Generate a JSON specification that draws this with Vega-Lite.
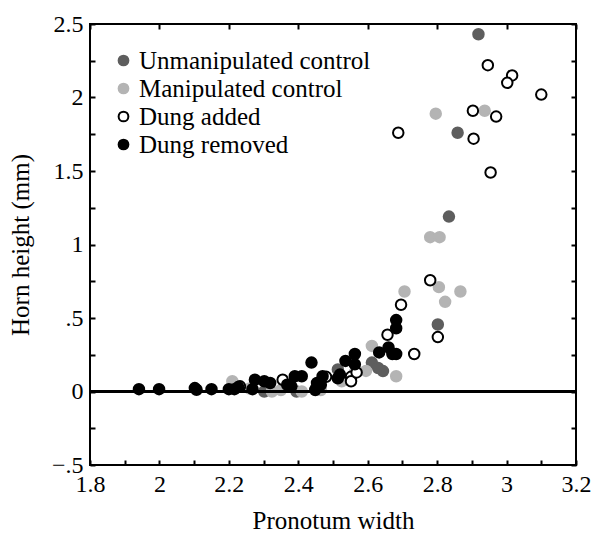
{
  "$schema": "https://vega.github.io/schema/vega-lite/v6.json",
  "width": 486,
  "height": 441,
  "autosize": {"type": "none"},
  "padding": {"left": 90, "top": 24, "right": 15, "bottom": 68},
  "background": "white",
  "config": {
    "view": {"stroke": "black", "strokeWidth": 2},
    "font": "Liberation Serif",
    "axis": {"grid": false, "domain": false, "tickColor": "black", "tickWidth": 2, "tickSize": -5,
             "labelFont": "Liberation Serif", "labelFontSize": 24, "labelColor": "black",
             "titleFont": "Liberation Serif", "titleFontSize": 25, "titleFontWeight": "normal", "titleColor": "black"},
    "legend": {"labelFont": "Liberation Serif", "labelFontSize": 25, "labelColor": "black"}
  },
  "data": {"values": [
    {"g": "Unmanipulated control", "x": 2.919, "y": 2.43},
    {"g": "Unmanipulated control", "x": 2.859, "y": 1.76},
    {"g": "Unmanipulated control", "x": 2.834, "y": 1.19},
    {"g": "Unmanipulated control", "x": 2.802, "y": 0.456},
    {"g": "Unmanipulated control", "x": 2.612, "y": 0.197},
    {"g": "Unmanipulated control", "x": 2.644, "y": 0.139},
    {"g": "Unmanipulated control", "x": 2.63, "y": 0.16},
    {"g": "Unmanipulated control", "x": 2.514, "y": 0.15},
    {"g": "Unmanipulated control", "x": 2.302, "y": 0.0},
    {"g": "Unmanipulated control", "x": 2.395, "y": 0.0},
    {"g": "Unmanipulated control", "x": 2.45, "y": 0.02},
    {"g": "Manipulated control", "x": 2.796, "y": 1.89},
    {"g": "Manipulated control", "x": 2.937, "y": 1.91},
    {"g": "Manipulated control", "x": 2.78, "y": 1.05},
    {"g": "Manipulated control", "x": 2.807, "y": 1.05},
    {"g": "Manipulated control", "x": 2.706, "y": 0.68},
    {"g": "Manipulated control", "x": 2.805, "y": 0.71},
    {"g": "Manipulated control", "x": 2.823, "y": 0.61},
    {"g": "Manipulated control", "x": 2.867, "y": 0.68},
    {"g": "Manipulated control", "x": 2.682, "y": 0.104},
    {"g": "Manipulated control", "x": 2.612, "y": 0.31},
    {"g": "Manipulated control", "x": 2.595, "y": 0.14},
    {"g": "Manipulated control", "x": 2.563, "y": 0.13},
    {"g": "Manipulated control", "x": 2.21, "y": 0.07},
    {"g": "Manipulated control", "x": 2.324, "y": 0.0},
    {"g": "Manipulated control", "x": 2.465, "y": 0.01},
    {"g": "Manipulated control", "x": 2.41, "y": 0.0},
    {"g": "Manipulated control", "x": 2.525, "y": 0.07},
    {"g": "Manipulated control", "x": 2.35, "y": 0.01},
    {"g": "Manipulated control", "x": 2.26, "y": 0.02},
    {"g": "Dung added", "x": 2.946, "y": 2.22},
    {"g": "Dung added", "x": 3.016, "y": 2.15},
    {"g": "Dung added", "x": 3.002, "y": 2.10},
    {"g": "Dung added", "x": 3.1, "y": 2.02},
    {"g": "Dung added", "x": 2.903, "y": 1.91},
    {"g": "Dung added", "x": 2.97, "y": 1.87},
    {"g": "Dung added", "x": 2.688, "y": 1.76},
    {"g": "Dung added", "x": 2.905, "y": 1.72},
    {"g": "Dung added", "x": 2.954, "y": 1.49},
    {"g": "Dung added", "x": 2.78, "y": 0.757},
    {"g": "Dung added", "x": 2.696, "y": 0.59},
    {"g": "Dung added", "x": 2.657, "y": 0.386},
    {"g": "Dung added", "x": 2.802, "y": 0.37},
    {"g": "Dung added", "x": 2.734, "y": 0.255},
    {"g": "Dung added", "x": 2.355, "y": 0.08},
    {"g": "Dung added", "x": 2.232, "y": 0.035},
    {"g": "Dung added", "x": 2.48, "y": 0.10},
    {"g": "Dung added", "x": 2.552, "y": 0.10},
    {"g": "Dung added", "x": 2.552, "y": 0.07},
    {"g": "Dung added", "x": 2.568, "y": 0.13},
    {"g": "Dung removed", "x": 1.941, "y": 0.016},
    {"g": "Dung removed", "x": 1.999, "y": 0.016},
    {"g": "Dung removed", "x": 2.102, "y": 0.023},
    {"g": "Dung removed", "x": 2.107, "y": 0.012},
    {"g": "Dung removed", "x": 2.15, "y": 0.016},
    {"g": "Dung removed", "x": 2.2, "y": 0.016},
    {"g": "Dung removed", "x": 2.216, "y": 0.016},
    {"g": "Dung removed", "x": 2.227, "y": 0.03},
    {"g": "Dung removed", "x": 2.268, "y": 0.016},
    {"g": "Dung removed", "x": 2.275, "y": 0.08},
    {"g": "Dung removed", "x": 2.302, "y": 0.07},
    {"g": "Dung removed", "x": 2.319, "y": 0.058},
    {"g": "Dung removed", "x": 2.368, "y": 0.046},
    {"g": "Dung removed", "x": 2.39, "y": 0.104},
    {"g": "Dung removed", "x": 2.41, "y": 0.104},
    {"g": "Dung removed", "x": 2.38, "y": 0.035},
    {"g": "Dung removed", "x": 2.438, "y": 0.197},
    {"g": "Dung removed", "x": 2.449, "y": 0.01},
    {"g": "Dung removed", "x": 2.454, "y": 0.058},
    {"g": "Dung removed", "x": 2.47, "y": 0.104},
    {"g": "Dung removed", "x": 2.465, "y": 0.046},
    {"g": "Dung removed", "x": 2.514, "y": 0.09},
    {"g": "Dung removed", "x": 2.52, "y": 0.115},
    {"g": "Dung removed", "x": 2.536, "y": 0.208},
    {"g": "Dung removed", "x": 2.563, "y": 0.255},
    {"g": "Dung removed", "x": 2.563, "y": 0.185},
    {"g": "Dung removed", "x": 2.633, "y": 0.266},
    {"g": "Dung removed", "x": 2.66, "y": 0.30},
    {"g": "Dung removed", "x": 2.682, "y": 0.255},
    {"g": "Dung removed", "x": 2.671, "y": 0.255},
    {"g": "Dung removed", "x": 2.682, "y": 0.486},
    {"g": "Dung removed", "x": 2.682, "y": 0.43}
  ]},
  "layer": [
    {
      "mark": {"type": "point", "shape": "circle", "size": 110, "strokeWidth": 2, "opacity": 1, "filled": false},
      "encoding": {
        "x": {"field": "x", "type": "quantitative", "scale": {"domain": [1.8, 3.2], "nice": false, "zero": false},
              "axis": {"orient": "bottom", "title": "Pronotum width", "titlePadding": 12,
                       "values": [1.8,1.9,2.0,2.1,2.2,2.3,2.4,2.5,2.6,2.7,2.8,2.9,3.0,3.1,3.2],
                       "labelExpr": "(round(datum.value*10)%2==0) ? format(datum.value,'~g') : ''",
                       "labelPadding": 12, "labelFlush": false}},
        "y": {"field": "y", "type": "quantitative", "scale": {"domain": [-0.5, 2.5], "nice": false, "zero": false},
              "axis": {"orient": "left", "title": "Horn height (mm)",
                       "values": [-0.5,-0.25,0,0.25,0.5,0.75,1,1.25,1.5,1.75,2,2.25,2.5],
                       "labelExpr": "(round(datum.value*4)%2==0) ? replace(format(datum.value,'~g'),'0.','.') : ''",
                       "labelPadding": 12, "labelFlush": false, "titlePadding": 18}},
        "fill": {"field": "g", "type": "nominal",
                 "scale": {"domain": ["Unmanipulated control", "Manipulated control", "Dung added", "Dung removed"],
                           "range": ["#5e5e5e", "#b4b4b4", "white", "black"]},
                 "legend": {"title": null, "orient": "none", "legendX": 21, "legendY": 24, "padding": 0,
                            "symbolSize": 95, "symbolStrokeWidth": 2, "labelOffset": 3, "rowPadding": 2, "labelLimit": 400}},
        "stroke": {"field": "g", "type": "nominal",
                   "scale": {"domain": ["Unmanipulated control", "Manipulated control", "Dung added", "Dung removed"],
                             "range": ["#5e5e5e", "#b4b4b4", "black", "black"]},
                   "legend": {"title": null, "orient": "none", "legendX": 21, "legendY": 24, "padding": 0,
                              "symbolSize": 95, "symbolStrokeWidth": 2, "labelOffset": 3, "rowPadding": 2, "labelLimit": 400}}
      }
    },
    {
      "mark": {"type": "rule", "color": "black", "strokeWidth": 2},
      "encoding": {"y": {"datum": 0, "type": "quantitative", "axis": null}}
    },
    {
      "mark": {"type": "point", "opacity": 0},
      "encoding": {
        "x": {"field": "x", "type": "quantitative",
              "axis": {"orient": "top", "title": null, "labels": false,
                       "values": [1.8,2.0,2.2,2.4,2.6,2.8,3.0,3.2]}},
        "y": {"field": "y", "type": "quantitative",
              "axis": {"orient": "right", "title": null, "labels": false,
                       "values": [-0.5,-0.25,0,0.25,0.5,0.75,1,1.25,1.5,1.75,2,2.25,2.5]}}
      }
    }
  ],
  "resolve": {"axis": {"x": "independent", "y": "independent"}}
}
